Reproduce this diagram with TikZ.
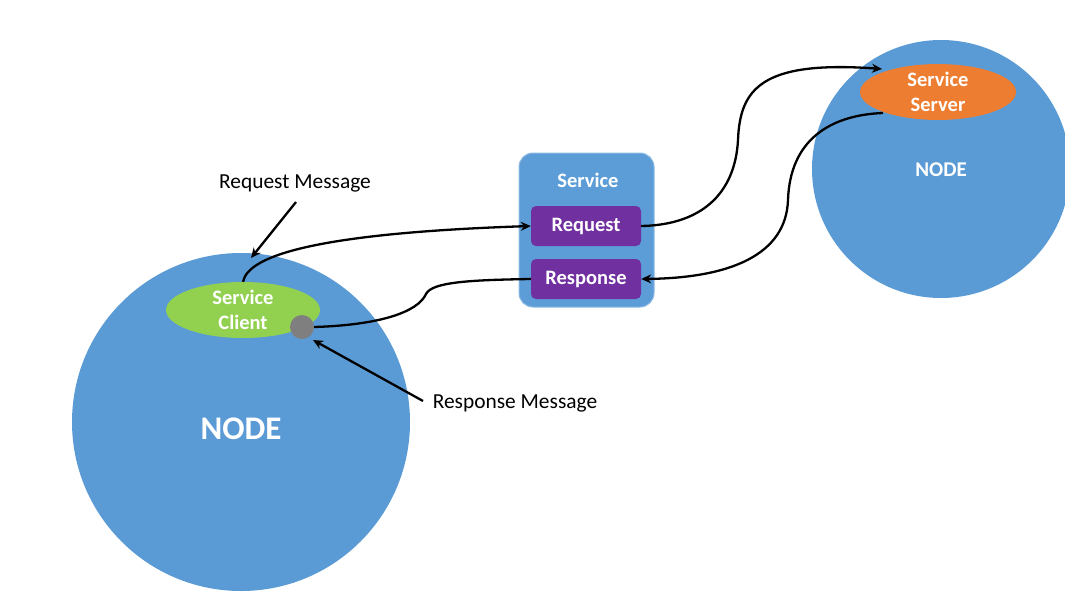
\documentclass[tikz,border=0pt]{standalone}
\usepackage{fontspec}
\setmainfont{Carlito}
\usetikzlibrary{arrows.meta,shapes.geometric}
\definecolor{nodeblue}{HTML}{5B9BD5}
\definecolor{boxblue}{HTML}{5C9DD8}
\definecolor{purp}{HTML}{7030A0}
\definecolor{cgreen}{HTML}{92D050}
\definecolor{corange}{HTML}{ED7D31}
\definecolor{cgrey}{HTML}{7F7F7F}
\tikzset{
  bignode/.style={circle, fill=nodeblue, inner sep=0pt},
  innertxt/.style={text=white, font=\bfseries\fontsize{20.5}{25}\selectfont, align=center},
  msgbox/.style={fill=purp, rounded corners=5pt, minimum width=110pt, minimum height=40pt, inner sep=0pt, innertxt},
  ell/.style={ellipse, inner sep=0pt, innertxt},
  conn/.style={line width=2.3pt, black, -{Stealth[length=10pt,width=9pt]}},
  plain/.style={line width=2.3pt, black},
  lbl/.style={font=\fontsize{21.4}{24}\selectfont, text=black}
}
\begin{document}
\begin{tikzpicture}[x=1pt,y=-1pt]
\useasboundingbox (0,0) rectangle (1065,597);
\begin{scope}
\clip (0,0) rectangle (1065,597);
% big nodes
\node[bignode, minimum size=338pt] (leftnode) at (241,422) {};
\node[bignode, minimum size=258pt] (rightnode) at (941,169) {};
\node[text=white, font=\bfseries\fontsize{33}{35}\selectfont] (lefttxt) at (241,429) {NODE};
\node[text=white, font=\bfseries\fontsize{21}{23}\selectfont] (righttxt) at (941,170) {NODE};
% service box
\node[fill=boxblue, draw=boxblue!70!white, line width=1pt, rounded corners=14pt, minimum width=135pt, minimum height=154pt, inner sep=0pt] (svc) at (586.5,230) {};
\node[innertxt] (svctxt) at (588,180) {Service};
\node[msgbox] (req) at (586,226) {Request};
\node[msgbox] (resp) at (586,279) {Response};
% ellipses
\node[ell, fill=cgreen, minimum width=154pt, minimum height=56pt] (client) at (243,310) {Service\\Client};
\node[ell, fill=corange, minimum width=156pt, minimum height=55pt] (server) at (938,92) {Service\\Server};
% connectors
\coordinate (srvin) at (882,69);
\coordinate (srvout) at (883,113);
\draw[conn] (client.north) .. controls (248,255) and (320,233) .. (req.west);
\draw[conn] (req.east) .. controls (700,225) and (735,195) .. (738,140)
                       .. controls (740,90) and (760,60) .. (srvin);
\draw[conn] (srvout) .. controls (830,115) and (790,140) .. (788,200)
                     .. controls (786,255) and (730,278) .. (resp.east);
\node[circle, fill=cgrey, minimum size=24pt, inner sep=0pt] (dot) at (302,327) {};
\draw[plain] (resp.west) .. controls (470,280) and (432,282) .. (426,294)
                         .. controls (418,312) and (380,325) .. (dot.east);
% labels
\node[lbl] (reqmsg) at (295,183) {Request Message};
\node[lbl] (respmsg) at (515,403) {Response Message};
\coordinate (reqmsgtip) at (251,258);
\coordinate (respmsgtip) at (313,340);
\draw[conn] (296,202) -- (reqmsgtip);
\draw[conn] (423,401) -- (respmsgtip);
\end{scope}
\end{tikzpicture}
\end{document}
